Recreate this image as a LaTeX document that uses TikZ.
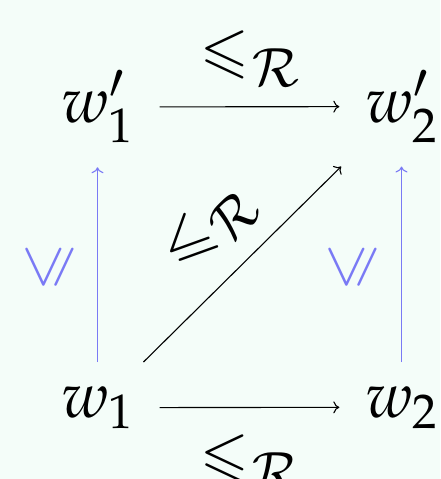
\documentclass[tikz,border=0pt]{standalone}
\usepackage{amssymb}
\usepackage{mathpazo}
\usetikzlibrary{arrows.meta}
\definecolor{bg}{HTML}{F4FDF9}
\definecolor{lblue}{RGB}{122,122,245}
\newcommand{\relR}{$\leqslant$\kern3pt\raisebox{-16pt}{\fontsize{53}{60}\selectfont$\mathcal{R}$}}
\begin{document}
\begin{tikzpicture}[x=1pt,y=-1pt,
  font=\fontsize{64}{76}\selectfont,
  obj/.style={inner xsep=26pt, inner ysep=24pt, outer sep=0pt, anchor=base},
  ar/.style={line width=1.1pt, -{Computer Modern Rightarrow[length=6pt,width=12pt]}},
  bar/.style={ar, draw=lblue},
  lbl/.style={inner sep=0pt, font=\fontsize{60}{70}\selectfont}]
\fill[bg] (0,0) rectangle (440,479);
\useasboundingbox (0,0) rectangle (440,479);
\node[obj] (w1p) at (97.5,122) {$w'_1$};
\node[obj] (w2p) at (401.5,122) {$w'_2$};
\node[obj] (w1) at (97.5,417) {$w_1$};
\node[obj] (w2) at (401.5,417) {$w_2$};
\draw[ar] (w1p) -- (w2p);
\draw[ar] (w1) -- (w2);
\draw[ar] (w1) -- (w2p);
\draw[bar] (w1) -- (w1p);
\draw[bar] (w2) -- (w2p);
\node[lbl, anchor=base west] (l1) at (200,70) {\relR};
\node[lbl, anchor=base west] (l2) at (200,474) {\relR};
\node[lbl, rotate=45] (l3) at (209,228) {\relR};
\node[lbl, rotate=90, text=lblue] (l4) at (50,267) {$\leqslant$};
\node[lbl, rotate=90, text=lblue] (l5) at (353,267) {$\leqslant$};
\end{tikzpicture}
\end{document}
